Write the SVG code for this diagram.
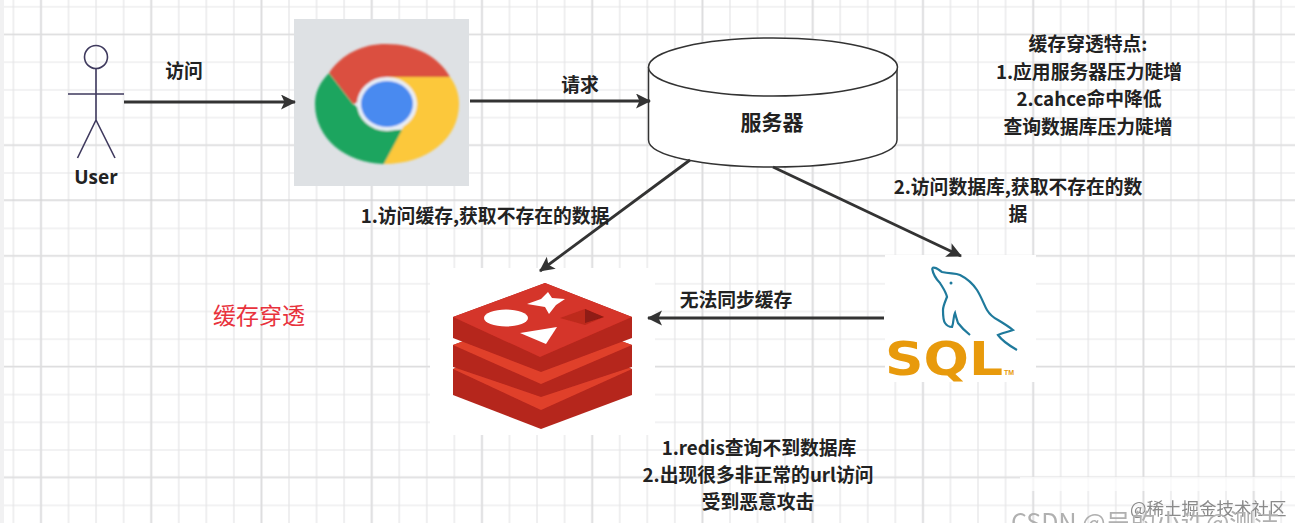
<svg xmlns="http://www.w3.org/2000/svg" width="1295" height="523" viewBox="0 0 1295 523">
<defs>
<pattern id="gm" width="27.56" height="27.7" patternUnits="userSpaceOnUse" patternTransform="translate(-0.38 -7.05)"><path d="M0 13.85H27.56M13.78 0V27.7" fill="none" stroke="#e5e5e7" stroke-width="1.2"/></pattern>
<pattern id="gM" width="110.25" height="110.7" patternUnits="userSpaceOnUse" patternTransform="translate(-14.12 -20.95)"><path d="M0 55.35H110.25M55.125 0V110.7" fill="none" stroke="#dededf" stroke-width="1.7"/></pattern>
<marker id="ah" markerWidth="16" markerHeight="16" refX="14" refY="7.500" orient="auto" markerUnits="userSpaceOnUse"><path d="M0 0L15 7.500L0 15L3.500 7.500Z" fill="#333"/></marker>
<filter id="soft" x="-5%" y="-5%" width="110%" height="110%"><feGaussianBlur stdDeviation="0.9"/></filter>
<filter id="soft2" x="-5%" y="-5%" width="110%" height="110%"><feGaussianBlur stdDeviation="0.5"/></filter>
</defs>
<style>
.t{font-family:"Noto Sans CJK SC","Noto Sans",sans-serif;font-size:18.8px;font-weight:700;fill:#222;text-anchor:middle}
.l{stroke:#333;stroke-width:2.8;fill:none;marker-end:url(#ah)}
.a{stroke:#3f3a5e;stroke-width:1.6;fill:none}
.c{fill:#fff;stroke:#333;stroke-width:1.5}
</style>
<rect width="1295" height="523" fill="#fff"/>
<rect width="1295" height="523" fill="url(#gm)"/>
<rect width="1295" height="523" fill="url(#gM)"/>
<rect x="0" y="0" width="4" height="523" fill="#f1f1f2"/>
<path d="M4 200H1295" stroke="#d2d2d4" stroke-width="1"/>
<rect x="1020" y="477" width="275" height="14" fill="#fff" opacity="0.7"/>

<g id="user">
<circle class="a" cx="96" cy="57" r="11.5"/>
<path class="a" d="M96 69V120M68 94H124M96 120L77.500 158M96 120L115 158"/>
<text class="t" x="96" y="184" style="font-family:'Open Sans','Noto Sans',sans-serif;font-size:19px">User</text>
</g>

<g id="chrome">
<rect x="294" y="19" width="175" height="167" fill="#dee1e4"/>
<g filter="url(#soft)">
<path d="M329 73C342 54 362 44 386 44C416 44 439 57 450 77L387 90L353 104Z" fill="#db4f3f"/>
<path d="M329 73L353 104L387 130L403 130L384 164C345 163 315 138 315 104C315 92 320 82 329 73Z" fill="#1ea55f"/>
<path d="M450 77C456 85 459 94 459 104C459 138 428 164 384 164L403 128L410 100L387 77Z" fill="#fcc83a"/>
<ellipse cx="387" cy="104" rx="30" ry="27" fill="#e8eef6"/>
<ellipse cx="387" cy="104" rx="26" ry="23" fill="#4a8af0"/>
</g>
</g>

<g id="server">
<path class="c" d="M648.500 67V140C648.500 156 704 167 773 167C842 167 897 156 897 140V67"/>
<ellipse class="c" cx="773" cy="67" rx="124.500" ry="29"/>
<text class="t" x="772" y="130" style="font-size:21px">服务器</text>
</g>

<g id="redis">
<rect x="430" y="268" width="225" height="167" fill="#fff"/>
<g filter="url(#soft2)">
<path d="M453 369L541 335L632 369V395L541 429L453 395Z" fill="#b5261c"/>
<path d="M453 369L541 335L632 369L541 410Z" fill="#e0402c"/>
<path d="M453 345L541 312L632 345V367L541 397L453 367Z" fill="#b5261c"/>
<path d="M453 345L541 312L632 345L541 384Z" fill="#e0402c"/>
<path d="M453 317V338L541 372L632 338V317L545 283Z" fill="#b5261c"/>
<path d="M453 317L545 283L632 317L540 357Z" fill="#d5342a"/>
<ellipse cx="506" cy="318" rx="22" ry="8.500" fill="#fff"/>
<path d="M548 292L552 298L565 299L556 305L549 314L545 307L527 304L541 299Z" fill="#fff"/>
<path d="M520 333L557 327L546 344Z" fill="#fff"/>
<path d="M560 318L585 309L604 317L585 325Z" fill="#bd2a1e"/>
<path d="M585 309L604 317L585 323Z" fill="#8f1a12"/>
</g>
</g>

<g id="mysql">
<rect x="885" y="255" width="151" height="127" fill="#fff"/>
<path d="M932 268C936 266 938 270 942 272C950 274 955 273 960 275C968 279 973 284 977 290C982 298 984 305 987 310C990 315 994 318 998 320C1003 323 1008 326 1013 330C1008 332 1002 333 998 335C1003 342 1010 346 1017 350M932 268C933 274 936 279 940 283C943 288 946 292 947 297C945 302 943 306 943 310C943 316 943 320 945 323C947 326 950 327 952 327C954 322 953 317 955 313C956 317 957 320 958 323C961 327 965 331 970 335" fill="none" stroke="#1f7a9c" stroke-width="2.200"/>
<circle cx="951" cy="283" r="1.500" fill="#1f7a9c"/>
<text x="885" y="375" style="font-family:'DejaVu Sans',sans-serif;font-size:46px;font-weight:700;fill:#e89a0c" textLength="118" lengthAdjust="spacingAndGlyphs">SQL</text>
<text x="1004" y="375" style="font-family:'Liberation Sans',sans-serif;font-size:7px;font-weight:700;fill:#e89a0c">TM</text>
</g>

<g id="connectors">
<path class="l" d="M124 102H295"/>
<path class="l" d="M470 101H650"/>
<path class="l" d="M690 160L540 271"/>
<path class="l" d="M773 167L961 256"/>
<path class="l" d="M884 318H648"/>
</g>

<g id="labels">
<text class="t" x="184" y="78">访问</text>
<text class="t" x="580" y="92">请求</text>
<text class="t" x="485" y="223">1.访问缓存,获取不存在的数据</text>
<text class="t" x="1018" y="194">2.访问数据库,获取不存在的数</text>
<text class="t" x="1018" y="221">据</text>
<text class="t" x="736" y="307">无法同步缓存</text>
<text class="t" x="1088" y="51">缓存穿透特点:</text>
<text class="t" x="1089" y="79">1.应用服务器压力陡增</text>
<text class="t" x="1089" y="106">2.cahce命中降低</text>
<text class="t" x="1088" y="134">查询数据库压力陡增</text>
<text class="t" x="759" y="455">1.redis查询不到数据库</text>
<text class="t" x="758" y="482">2.出现很多非正常的url访问</text>
<text class="t" x="758" y="509">受到恶意攻击</text>
<text x="259" y="324" style="font-family:'Noto Sans CJK SC',sans-serif;font-size:23px;fill:#e8323c;text-anchor:middle">缓存穿透</text>
<text x="1130" y="515" filter="url(#soft2)" style="font-family:'Noto Sans CJK SC',sans-serif;font-size:17.500px;fill:#8a8a8a">@稀土掘金技术社区</text>
<text x="1011" y="532" filter="url(#soft2)" style="font-family:'Noto Sans CJK SC',sans-serif;font-size:25px;fill:#b0b0b0">CSDN @吴的小许@测洁</text>
</g>
</svg>
